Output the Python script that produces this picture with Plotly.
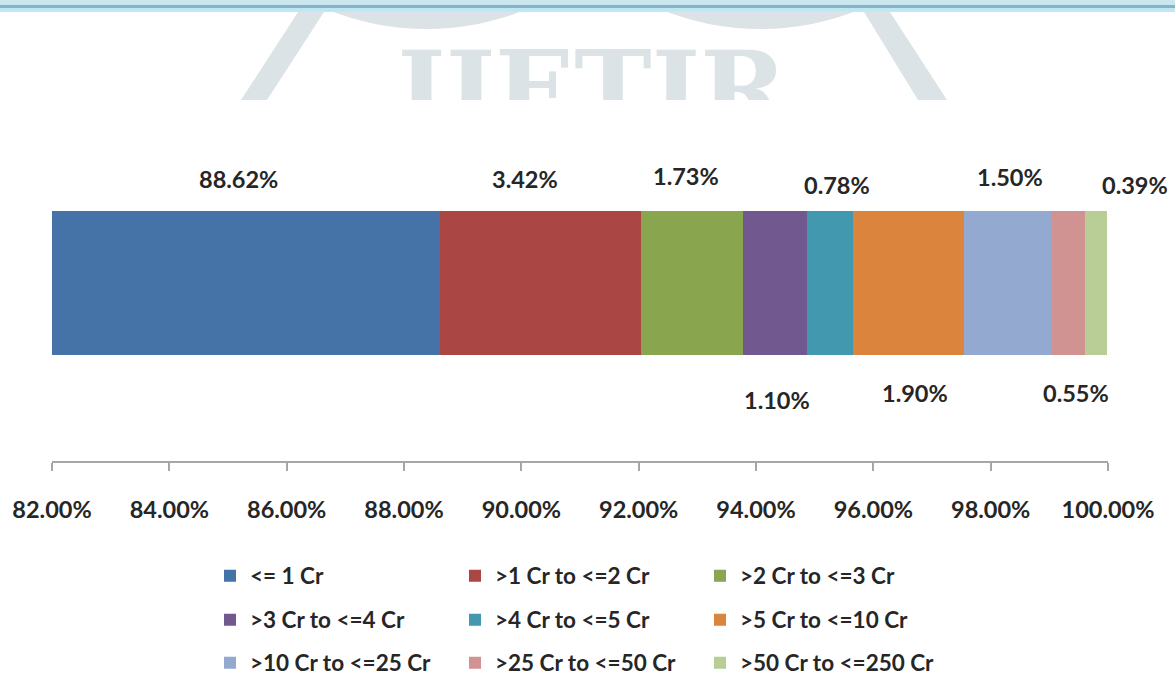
import plotly.graph_objects as go

# ---- data -------------------------------------------------------------
categories = [
    "<= 1 Cr", ">1 Cr to <=2 Cr", ">2 Cr to <=3 Cr",
    ">3 Cr to <=4 Cr", ">4 Cr to <=5 Cr", ">5 Cr to <=10 Cr",
    ">10 Cr to <=25 Cr", ">25 Cr to <=50 Cr", ">50 Cr to <=250 Cr",
]
shares = [88.62, 3.42, 1.73, 1.10, 0.78, 1.90, 1.50, 0.55, 0.39]
tick_values = [82, 84, 86, 88, 90, 92, 94, 96, 98, 100]

# ---- styling ----------------------------------------------------------
colors = ["#4572A7", "#AA4643", "#89A54E", "#71588F", "#4198AF",
          "#DB843D", "#93A9CF", "#D19392", "#B9CD96"]
label_row_px = [179, 179, 176, 400, 185, 393, 177, 393, 185]   # label centre (px from top)
label_dx = [-8, -16, -6, 2, 7, 6, 2, 8, 39]                   # horizontal nudge (px)
legend_rows = ["legend", "legend2", "legend3"]

W, H = 1175, 686
ML, MR = 45, 50                     # side margins wide enough for end tick labels
PW = W - ML - MR
FONT = "Lato"
TXT = "#262626"
FS = 23.5


def fx(px):
    """page pixel -> plot-area fraction (x)"""
    return (px - ML) / PW


def fy(px):
    """page pixel -> plot-area fraction (y)"""
    return 1 - px / H


fig = go.Figure()

# stacked horizontal bar
for i, (name, val) in enumerate(zip(categories, shares)):
    fig.add_trace(go.Bar(
        x=[val], y=[0], orientation="h", name=name, width=1,
        marker=dict(color=colors[i], line=dict(width=0)),
        legend=legend_rows[i // 3], hoverinfo="skip",
        xaxis="x", yaxis="y",
    ))

# value labels placed over / under each segment
x_min = tick_values[0]
start = 0.0
for i, val in enumerate(shares):
    end = start + val
    mid = (max(start, x_min) + end) / 2
    fig.add_annotation(
        x=mid, xref="x", y=fy(label_row_px[i]), yref="paper",
        text=f"{val:.2f}%", showarrow=False, xshift=label_dx[i],
        xanchor="center", yanchor="middle",
        font=dict(family=FONT, size=FS, color=TXT, weight="bold"),
    )
    start = end

# faint logo in the page header (cut off along the bottom of its strip)
logo = "#dce3e7"
fig.add_trace(go.Scatter(
    x=[592], y=[100], mode="text", text=["IJETIR"],
    textfont=dict(family="DejaVu Serif", size=104, color=logo, weight="bold"),
    textposition="middle center", cliponaxis=True, showlegend=False,
    hoverinfo="skip", xaxis="x2", yaxis="y2",
))

shapes = [
    dict(type="path", xref="x2", yref="y2", layer="below",
         path="M 298,12 L 324,12 L 267,100 L 241,100 Z",
         fillcolor=logo, line=dict(width=0)),
    dict(type="path", xref="x2", yref="y2", layer="below",
         path="M 864,12 L 890,12 L 947,100 L 918,100 Z",
         fillcolor=logo, line=dict(width=0)),
    dict(type="circle", xref="x2", yref="y2", layer="below",
         x0=426.5 - 265, x1=426.5 + 265, y0=29 - 530, y1=29,
         fillcolor=logo, line=dict(width=0)),
    dict(type="circle", xref="x2", yref="y2", layer="below",
         x0=760.5 - 265, x1=760.5 + 265, y0=29 - 530, y1=29,
         fillcolor=logo, line=dict(width=0)),
    # header band
    dict(type="rect", xref="paper", yref="paper", x0=fx(0), x1=fx(W),
         y0=fy(12), y1=1, fillcolor="#cce6f0", line=dict(width=0), layer="above"),
    dict(type="rect", xref="paper", yref="paper", x0=fx(0), x1=fx(W),
         y0=fy(8), y1=fy(5), fillcolor="#82b6c6", line=dict(width=0), layer="above"),
    dict(type="rect", xref="paper", yref="paper", x0=fx(0), x1=fx(W),
         y0=fy(11), y1=fy(8), fillcolor="#bfe6f2", line=dict(width=0), layer="above"),
]

legend_style = dict(
    orientation="h", xanchor="left", yanchor="middle", x=fx(210),
    font=dict(family=FONT, size=FS - 1, color=TXT, weight="bold"),
    entrywidthmode="pixels", entrywidth=200, bgcolor="rgba(0,0,0,0)",
    traceorder="normal",
)

fig.update_layout(
    width=W, height=H,
    margin=dict(l=ML, r=MR, t=0, b=0, autoexpand=False),
    paper_bgcolor="white", plot_bgcolor="rgba(0,0,0,0)",
    barmode="stack", bargap=0,
    xaxis=dict(
        domain=[fx(52), fx(1108)], range=[82, 100],
        tickvals=tick_values, ticktext=[f"{v:.2f}%" for v in tick_values],
        anchor="free", position=fy(462), automargin=False,
        showline=True, linecolor="#a6a6a6", linewidth=2,
        ticks="outside", ticklen=8, tickwidth=2, tickcolor="#a6a6a6",
        showgrid=False, zeroline=False, ticklabelstandoff=19,
        tickfont=dict(family=FONT, size=FS, color=TXT, weight="bold"),
        fixedrange=True,
    ),
    yaxis=dict(domain=[fy(355), fy(211)], range=[-0.5, 0.5], visible=False,
               fixedrange=True),
    xaxis2=dict(domain=[0, 1], range=[ML, W - MR], visible=False, anchor="y2",
                fixedrange=True),
    yaxis2=dict(domain=[fy(100), 1], range=[100, 0], visible=False, anchor="x2",
                fixedrange=True),
    legend=dict(legend_style, y=fy(576)),
    legend2=dict(legend_style, y=fy(620)),
    legend3=dict(legend_style, y=fy(663)),
    shapes=shapes,
    showlegend=True,
)

fig.write_html("out.html")
